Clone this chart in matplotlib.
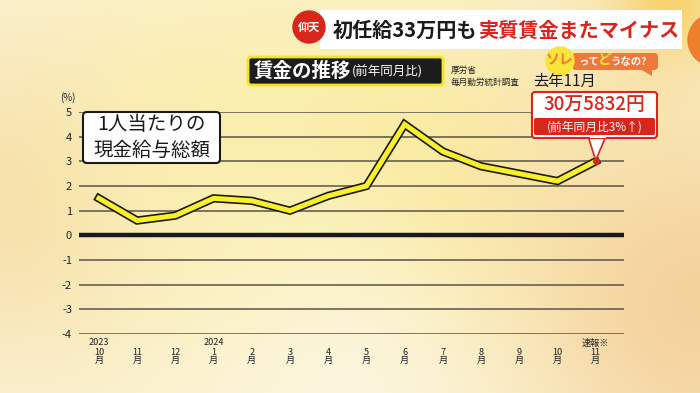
import numpy as np
import matplotlib
matplotlib.use("Agg")
import matplotlib.pyplot as plt
import matplotlib.patheffects as pe
from matplotlib.patches import FancyBboxPatch, Circle, Polygon, Rectangle

plt.rcParams['font.family'] = ['Noto Sans CJK JP', 'DejaVu Sans']

# データ(賃金の推移・前年同月比 %)
months = ['10', '11', '12', '1', '2', '3', '4', '5', '6', '7', '8', '9', '10', '11']
wage_growth = [1.5, 0.6, 0.8, 1.5, 1.4, 1.0, 1.6, 2.0, 4.5, 3.4, 2.8, 2.5, 2.2, 3.0]
year_labels = {0: '2023', 3: '2024', 13: '速報※'}
y_ticks = [5, 4, 3, 2, 1, 0, -1, -2, -3, -4]

W, H = 700, 393
fig = plt.figure(figsize=(7, 3.93), dpi=100)

# 背景(黄色系のぼかし)
yy, xx = np.mgrid[0:H, 0:W]
img = np.zeros((H, W, 3))
img[:] = np.array([251, 243, 212]) / 255

def blob(cx, cy, r, col, a):
    g = np.exp(-(((xx - cx) ** 2 + (yy - cy) ** 2) / (2 * r ** 2)))[..., None] * a
    img[:] = img * (1 - g) + np.array(col) / 255 * g

blob(20, 200, 110, (246, 220, 168), 0.9)
blob(200, 140, 120, (251, 238, 170), 0.7)
blob(420, 200, 130, (250, 234, 140), 0.8)
blob(330, 280, 90, (251, 240, 175), 0.6)
blob(690, 300, 140, (244, 206, 150), 0.9)
blob(620, 90, 80, (248, 226, 170), 0.6)
blob(350, 393, 120, (252, 246, 228), 0.8)
blob(670, 0, 40, (247, 205, 90), 0.8)

bg = fig.add_axes([0, 0, 1, 1], zorder=0)
bg.imshow(img, extent=(0, W, H, 0), aspect='auto')
bg.set_xlim(0, W)
bg.set_ylim(H, 0)
bg.axis('off')

# グラフ本体
ax = fig.add_axes([79 / W, 1 - 334 / H, 545 / W, 222 / H], zorder=1)
ax.patch.set_alpha(0)
x = np.arange(len(months))
ax.set_xlim(-0.52, 13.74)
ax.set_ylim(-4, 5)
for v in y_ticks:
    if v == 0:
        ax.axhline(v, color='#1a1a1a', lw=3.2, zorder=2)
    else:
        ax.axhline(v, color='#5a5448', lw=1.1, zorder=1)
ax.plot(x, wage_growth, color='#f8f02a', lw=3.6, solid_joinstyle='miter', zorder=3,
        path_effects=[pe.Stroke(linewidth=6.0, foreground='#1e1a10'), pe.Normal()])
ax.plot(x[-1], wage_growth[-1], 'o', color='#d8261c', ms=4, zorder=4)
for s in ax.spines.values():
    s.set_visible(False)
ax.set_yticks(y_ticks)
ax.set_yticklabels([str(v) for v in y_ticks], fontsize=8, color='#222')
ax.tick_params(axis='y', length=0, pad=5)
ax.set_xticks(x)
ax.set_xticklabels([m + '\n月' for m in months], fontsize=6.6, color='#222', linespacing=0.85)
ax.tick_params(axis='x', length=0, pad=10)
for i, lab in year_labels.items():
    ax.text(x[i], -0.04, lab, transform=ax.get_xaxis_transform(), ha='center', va='center',
            fontsize=6.6, color='#222')

# 装飾・注釈
ov = fig.add_axes([0, 0, 1, 1], zorder=2)
ov.patch.set_alpha(0)
ov.set_xlim(0, W)
ov.set_ylim(H, 0)
ov.axis('off')

ov.text(68, 98, '(%)', fontsize=7, ha='center', va='center', color='#222')

# タイトル帯
ov.add_patch(Circle((714, 40), 26, color='#ee7a28', alpha=0.95))
ov.add_patch(Rectangle((320, 10), 362, 39, color='white', ec='none'))
ov.add_patch(Circle((309, 27), 16, color='#d8261c'))
ov.text(309, 27, '仰天', fontsize=8, color='white', ha='center', va='center', weight='bold')
t1 = ov.text(333, 30, '初任給33万円も', fontsize=14.5, weight='bold', color='#1a1a1a',
             ha='left', va='center')
fig.canvas.draw()
bb = t1.get_window_extent().transformed(ov.transData.inverted())
ov.text(bb.x1 + 1, 30, '実質賃金またマイナス', fontsize=14.5, weight='bold', color='#d8261c',
        ha='left', va='center')

# 見出しボックス
ov.add_patch(FancyBboxPatch((248, 57), 195, 28, boxstyle='round,pad=0,rounding_size=3',
                            fc='#1c1c1c', ec='#f2e620', lw=2))
t2 = ov.text(254, 71, '賃金の推移', fontsize=14, weight='bold', color='white', ha='left', va='center')
bb2 = t2.get_window_extent().transformed(ov.transData.inverted())
ov.text(bb2.x1, 72, '(前年同月比)', fontsize=9, color='white', ha='left', va='center')
ov.text(451, 70, '厚労省', fontsize=6.2, color='#222', ha='left', va='center')
ov.text(451, 82, '毎月勤労統計調査', fontsize=6.2, color='#222', ha='left', va='center')
ov.text(533, 81, '去年11月', fontsize=11, color='#1a1a1a', ha='left', va='center')

# ソレってどうなの?
ov.add_patch(FancyBboxPatch((572, 53), 86, 17, boxstyle='round,pad=0,rounding_size=4',
                            fc='#f0783a', ec='none'))
ov.add_patch(Polygon([(640, 69), (652, 69), (652, 76)], closed=True, fc='#f0783a', ec='none'))
ov.add_patch(Circle((560, 61), 14, color='#f8e43a'))
ov.text(560, 60, 'ソレ', fontsize=10, weight='bold', color='#f07a30', ha='center', va='center')
ov.text(578, 62, 'って', fontsize=7.5, weight='bold', color='white', ha='left', va='center')
ov.text(598, 60, 'ど', fontsize=10, weight='bold', color='#f8e43a', ha='left', va='center')
ov.text(611, 62, 'うなの?', fontsize=7.5, weight='bold', color='white', ha='left', va='center')

# 1人当たりの現金給与総額
ov.add_patch(FancyBboxPatch((83, 112), 137, 51, boxstyle='round,pad=0,rounding_size=4',
                            fc='white', ec='#1a1a1a', lw=1.5))
ov.text(151.5, 125, '1人当たりの', fontsize=14, color='#1a1a1a', ha='center', va='center')
ov.text(151.5, 150, '現金給与総額', fontsize=14, color='#1a1a1a', ha='center', va='center')

# 吹き出し
tip = ax.transData.transform((x[-1], wage_growth[-1]))
tx, ty = ov.transData.inverted().transform(tip)
ov.add_patch(Polygon([(588, 136), (606, 136), (tx, ty - 1)], closed=True,
                     fc='white', ec='#d8261c', lw=1.2))
ov.add_patch(FancyBboxPatch((532, 92), 125, 46, boxstyle='round,pad=0,rounding_size=3',
                            fc='white', ec='#d8261c', lw=1.5))
ov.add_patch(Rectangle((589.5, 134), 16, 4, fc='white', ec='none'))
ov.add_patch(FancyBboxPatch((534, 118), 121, 17, boxstyle='round,pad=0,rounding_size=2',
                            fc='#d8261c', ec='none'))
ov.text(594.5, 104, '30万5832円', fontsize=13.5, weight='medium', color='#d8261c',
        ha='center', va='center')
ov.text(594.5, 127, '(前年同月比3%↑)', fontsize=8.5, color='white', ha='center', va='center')

fig.savefig('out.png', dpi=100)
